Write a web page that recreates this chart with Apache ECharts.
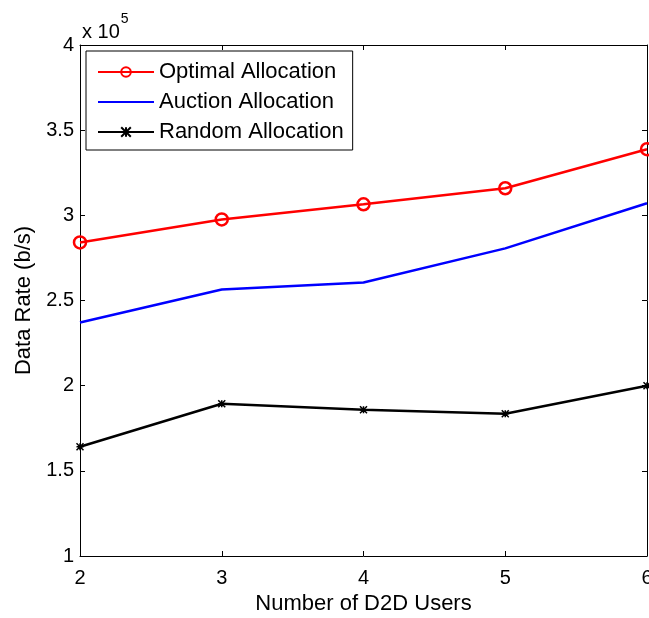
<!DOCTYPE html>
<html>
<head>
<meta charset="utf-8">
<script src="https://cdn.jsdelivr.net/npm/echarts@6/dist/echarts.min.js"></script>
<style>
  html, body { margin: 0; padding: 0; background: #fff; }
  #chart { width: 649px; height: 618px; }
</style>
</head>
<body>
<div id="chart"></div>
<script>
// number of D2D users
const users = [2, 3, 4, 5, 6]
// data rate in b/s
const optimalRate = [284100, 297600, 306500, 315900, 338800]
const auctionRate = [237100, 256500, 260600, 280600, 307100]
const randomRate = [164100, 189400, 185900, 183500, 200000]
const seriesNames = ['Optimal Allocation', 'Auction Allocation', 'Random Allocation']

const font = 'Arial, "Liberation Sans", sans-serif'

const toPairs = vals => users.map((u, i) => [u, vals[i]])

const tickStyle = { inside: true, length: 5, lineStyle: { color: '#000', width: 1 } }

const chart = echarts.init(document.getElementById('chart'))
const options = {
  animation: false,
  backgroundColor: '#fff',
  grid: { left: 80, right: 2, top: 45, bottom: 62, outerBoundsMode: 'none', containLabel: false },
  legend: {
    left: 86,
    top: 51,
    orient: 'vertical',
    backgroundColor: '#fff',
    borderColor: '#000',
    borderWidth: 1,
    borderRadius: 0,
    padding: [10, 9, 7, 11],
    itemWidth: 56,
    itemHeight: 12,
    itemGap: 8,
    selectedMode: false,
    textStyle: { fontFamily: font, fontSize: 22, lineHeight: 22, color: '#000' },
    data: seriesNames
  },
  graphic: [{
    type: 'text',
    left: 82,
    top: 12,
    style: {
      text: '{b|x 10}{s|5}',
      rich: {
        b: { fontFamily: font, fontSize: 20, color: '#000', padding: [10, 0, 0, 0] },
        s: { fontFamily: font, fontSize: 14, color: '#000', verticalAlign: 'top', padding: [0, 0, 0, 1] }
      }
    }
  }],
  xAxis: [{
    type: 'value',
    min: 2,
    max: 6,
    interval: 1,
    name: 'Number of D2D Users',
    nameLocation: 'middle',
    nameGap: 37,
    nameTextStyle: { fontFamily: font, fontSize: 22, color: '#000' },
    axisLine: { lineStyle: { color: '#000', width: 1 } },
    axisTick: tickStyle,
    axisLabel: { fontFamily: font, fontSize: 20, color: '#000', margin: 12 },
    splitLine: { show: false }
  }, {
    type: 'value',
    position: 'top',
    min: 2,
    max: 6,
    interval: 1,
    axisLine: { lineStyle: { color: '#000', width: 1 } },
    axisTick: tickStyle,
    axisLabel: { show: false },
    splitLine: { show: false }
  }],
  yAxis: [{
    type: 'value',
    min: 100000,
    max: 400000,
    interval: 50000,
    name: 'Data Rate (b/s)',
    nameLocation: 'middle',
    nameGap: 42,
    nameTextStyle: { fontFamily: font, fontSize: 22, color: '#000' },
    axisLine: { show: true, lineStyle: { color: '#000', width: 1 } },
    axisTick: tickStyle,
    axisLabel: {
      fontFamily: font, fontSize: 20, color: '#000', margin: 6,
      formatter: v => String(v / 100000)
    },
    splitLine: { show: false }
  }, {
    type: 'value',
    position: 'right',
    min: 100000,
    max: 400000,
    interval: 50000,
    axisLine: { show: true, lineStyle: { color: '#000', width: 1 } },
    axisTick: tickStyle,
    axisLabel: { show: false },
    splitLine: { show: false }
  }],
  series: [
    {
      name: seriesNames[0],
      type: 'line',
      symbol: 'circle',
      symbolSize: 12,
      clip: false,
      lineStyle: { color: '#ff0000', width: 2.5 },
      itemStyle: { color: 'rgba(0,0,0,0)', borderColor: '#ff0000', borderWidth: 2.5 },
      data: toPairs(optimalRate)
    },
    {
      name: seriesNames[1],
      type: 'line',
      symbol: 'circle',
      symbolSize: 0,
      showSymbol: false,
      lineStyle: { color: '#0000ff', width: 2.5 },
      itemStyle: { color: 'rgba(0,0,0,0)', borderColor: 'rgba(0,0,0,0)', borderWidth: 0 },
      data: toPairs(auctionRate)
    },
    {
      name: seriesNames[2],
      type: 'line',
      symbol: 'path://M0,0L10,10M10,0L0,10M5,0L5,10M0,5L10,5',
      symbolSize: 7,
      clip: false,
      lineStyle: { color: '#000', width: 2.5 },
      itemStyle: { color: '#000', borderColor: '#000', borderWidth: 1.5 },
      data: toPairs(randomRate)
    }
  ]
}
chart.setOption(options)
</script>
</body>
</html>
